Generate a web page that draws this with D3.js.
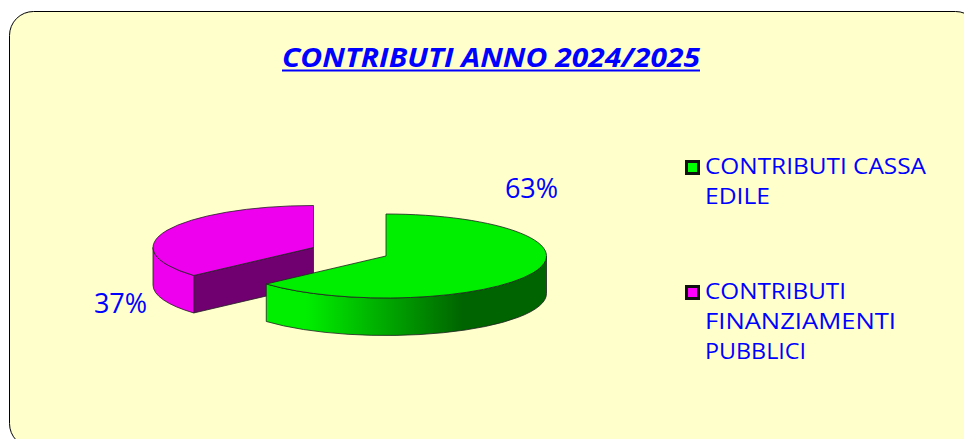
<!DOCTYPE html>
<html>
<head>
<meta charset="utf-8">
<script src="https://cdn.jsdelivr.net/npm/d3@7"></script>
<style>
  html, body { margin: 0; padding: 0; background: #fff; }
  svg { display: block; }
  text { font-family: "Open Sans", sans-serif; fill: #0000ff; }
</style>
</head>
<body>
<div id="chart"></div>
<script>
const width = 964;
const height = 439;

const title = "CONTRIBUTI ANNO 2024/2025";
const categories = ["CONTRIBUTI CASSA EDILE", "CONTRIBUTI FINANZIAMENTI PUBBLICI"];
const values = [63.4, 36.6];
const legendLines = [["CONTRIBUTI CASSA", "EDILE"], ["CONTRIBUTI", "FINANZIAMENTI", "PUBBLICI"]];
// the reference font is wider than anything installed, so lines get stretched to these
const legendWidths = [[221, 65], [141, 191], [101]];
const topColors = ["#00ee00", "#ee00ee"];
const swatchColors = ["#00ff00", "#ff00ff"];

const rx = 160.5;
const ry = 42;
const depth = 37.5;
// each slice is pulled apart, so it has its own apex
const apex = [{x: 386, y: 256}, {x: 313.5, y: 247.5}];
const labelPos = [{x: 531.5, y: 198}, {x: 120.5, y: 313}];

const svg = d3.select("#chart").append("svg")
  .attr("width", width)
  .attr("height", height);

const defs = svg.append("defs");

const greenWall = defs.append("linearGradient")
  .attr("id", "greenWall")
  .attr("gradientUnits", "userSpaceOnUse")
  .attr("x1", 267).attr("x2", 547).attr("y1", 0).attr("y2", 0);
greenWall.append("stop").attr("offset", "0.14").attr("stop-color", "#00ee00");
greenWall.append("stop").attr("offset", "0.7").attr("stop-color", "#006400");
greenWall.append("stop").attr("offset", "1").attr("stop-color", "#006400");

// panel runs off the right and bottom of the window
svg.append("rect")
  .attr("x", 9.5)
  .attr("y", 11.5)
  .attr("width", 970)
  .attr("height", 436)
  .attr("rx", 24)
  .attr("fill", "#ffffcc")
  .attr("stroke", "#000");

svg.append("text")
  .attr("x", 491)
  .attr("y", 67)
  .attr("text-anchor", "middle")
  .attr("font-size", 26)
  .attr("font-weight", 700)
  .attr("font-style", "italic")
  .attr("textLength", 418)
  .attr("lengthAdjust", "spacingAndGlyphs")
  .text(title);

svg.append("line")
  .attr("x1", 282).attr("x2", 700)
  .attr("y1", 70.5).attr("y2", 70.5)
  .attr("stroke", "#0000ff")
  .attr("stroke-width", 2);

// pie starts at 12 o'clock and goes clockwise, as the reference does
const slices = d3.pie().sort(null)(values);

const px = (d, a) => apex[d.index].x + rx * Math.sin(a);
const py = (d, a) => apex[d.index].y - ry * Math.cos(a);

// outer wall of a slice, only the part facing the viewer (90deg to 270deg)
function outerWall(d) {
  const a0 = Math.max(d.startAngle, Math.PI / 2);
  const a1 = Math.min(d.endAngle, Math.PI * 3 / 2);
  let wall = `M${px(d, a0)},${py(d, a0)}A${rx},${ry} 0 0 1 ${px(d, a1)},${py(d, a1)}`;
  wall += `L${px(d, a1)},${py(d, a1) + depth}`;
  wall += `A${rx},${ry} 0 0 0 ${px(d, a0)},${py(d, a0) + depth}Z`;
  return wall;
}

function topFace(d) {
  const large = d.endAngle - d.startAngle > Math.PI ? 1 : 0;
  return `M${apex[d.index].x},${apex[d.index].y}` +
    `L${px(d, d.startAngle)},${py(d, d.startAngle)}` +
    `A${rx},${ry} 0 ${large} 1 ${px(d, d.endAngle)},${py(d, d.endAngle)}Z`;
}

// cut face of the magenta slice, seen from the front
function cutFace(d) {
  const a = apex[d.index];
  const x1 = px(d, d.startAngle);
  const y1 = py(d, d.startAngle);
  return `M${a.x},${a.y}L${x1},${y1}L${x1},${y1 + depth}L${a.x},${a.y + depth}Z`;
}

const green = slices[0];
const pink = slices[1];

svg.append("path").attr("d", cutFace(pink))
  .attr("fill", "#700070").attr("stroke", "#222").attr("stroke-width", 0.8);
svg.append("path").attr("d", outerWall(pink))
  .attr("fill", "#ee00ee").attr("stroke", "#222").attr("stroke-width", 0.8);
svg.append("path").attr("d", topFace(pink))
  .attr("fill", topColors[1]).attr("stroke", "#222").attr("stroke-width", 0.8);

svg.append("path").attr("d", outerWall(green))
  .attr("fill", "url(#greenWall)").attr("stroke", "#222").attr("stroke-width", 0.8);
svg.append("path").attr("d", topFace(green))
  .attr("fill", topColors[0]).attr("stroke", "#222").attr("stroke-width", 0.8);

svg.selectAll("text.pct")
  .data(values)
  .enter()
  .append("text")
  .attr("class", "pct")
  .attr("x", (d, i) => labelPos[i].x)
  .attr("y", (d, i) => labelPos[i].y)
  .attr("text-anchor", "middle")
  .attr("font-size", 27)
  .text(d => Math.round(d) + "%");

// legend
const legendY = d3.scaleOrdinal().domain(categories).range([167.5, 292.5]);

const legend = svg.selectAll("g.legend")
  .data(categories)
  .enter()
  .append("g")
  .attr("class", "legend")
  .attr("transform", d => `translate(0,${legendY(d)})`);

legend.append("rect")
  .attr("x", 686.5)
  .attr("y", -6)
  .attr("width", 12)
  .attr("height", 12)
  .attr("fill", (d, i) => swatchColors[i])
  .attr("stroke", "#111")
  .attr("stroke-width", 3);

legend.each(function(d, i) {
  d3.select(this).selectAll("text")
    .data(legendLines[i])
    .enter()
    .append("text")
    .attr("x", 705)
    .attr("y", (l, j) => 6 + j * 30)
    .attr("font-size", 21)
    .attr("lengthAdjust", "spacingAndGlyphs")
    .attr("textLength", (l, j) => (i === 0 ? legendWidths[0][j] : j < 2 ? legendWidths[1][j] : legendWidths[2][0]))
    .text(l => l);
});
</script>
</body>
</html>
